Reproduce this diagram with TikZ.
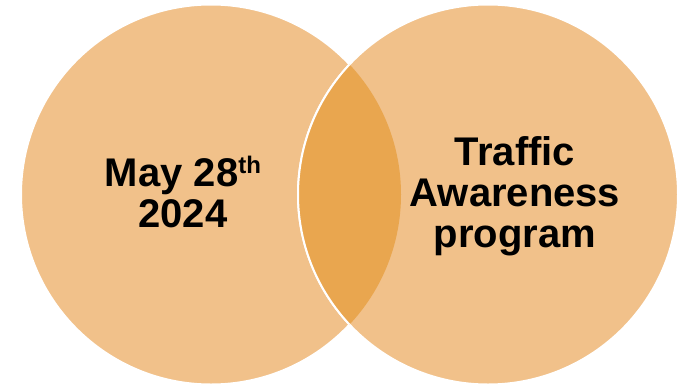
\documentclass[tikz,border=0pt]{standalone}
\usepackage{fontspec}
\setmainfont{Liberation Sans}
\definecolor{petal}{HTML}{F1C18A}
\definecolor{overlap}{HTML}{E9A64F}
\newcommand{\ordsup}[1]{\raisebox{0.33em}{\fontsize{24}{24}\selectfont #1}}
\begin{document}
\begin{tikzpicture}[
		x=1pt, y=-1pt,
		petal/.style={fill=petal, draw=white, line width=2pt},
		label text/.style={align=center, font=\fontsize{40}{41}\selectfont\bfseries, inner sep=0pt}
	]
	\useasboundingbox (0,0) rectangle (680,386);
	\coordinate (left) at (211,194.5);
	\coordinate (right) at (488,194.5);
	\draw[petal] (left) circle (190);
	\draw[petal] (right) circle (190);
	% shared part of both circles
	\begin{scope}
		\clip (left) circle (190);
		\fill[overlap] (right) circle (190);
		\draw[white, line width=2pt] (right) circle (190);
	\end{scope}
	\node[label text] (date) at (183,192) {May 28\ordsup{th}\\2024};
	\node[label text] (event) at (515,196) {Traffic\\Awareness\\program};
\end{tikzpicture}
\end{document}
